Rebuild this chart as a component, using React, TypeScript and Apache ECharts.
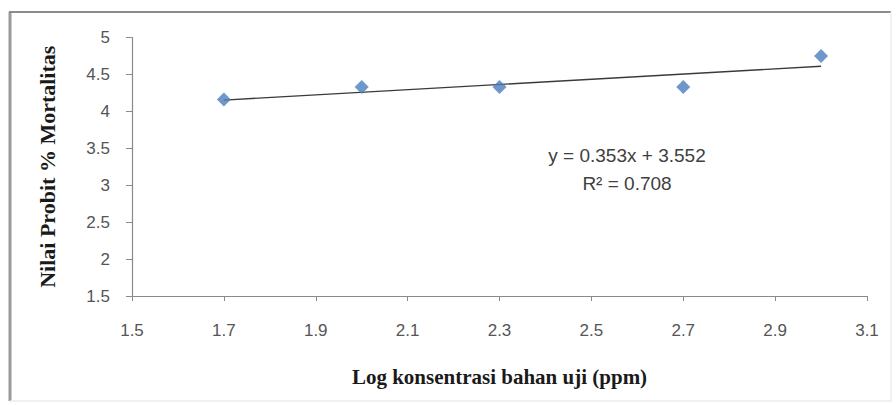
import React, { useEffect, useRef } from "react";
import * as echarts from "echarts";

const logConc: number[] = [1.7, 2.0, 2.3, 2.7, 3.0];
const probit: number[] = [4.16, 4.33, 4.33, 4.33, 4.75];
const trendSlope = 0.353;
const trendIntercept = 3.552;
const trendRange: number[] = [1.7, 3.0];
const equationLines: string[] = ["y = 0.353x + 3.552", "R² = 0.708"];
const xTitle = "Log konsentrasi bahan uji (ppm)";
const yTitle = "Nilai Probit % Mortalitas";

export default function App() {
  const ref = useRef<HTMLDivElement>(null);
  useEffect(() => {
    if (!ref.current) return;
    const chart = echarts.init(ref.current, null, { renderer: "svg" });
    const trendData = trendRange.map((x) => [x, trendSlope * x + trendIntercept]);
    const labelFont = "'Liberation Sans', Arial, sans-serif";
    chart.setOption({
      animation: false,
      backgroundColor: "#ffffff",
      grid: { left: 132, right: 29, top: 37.5, bottom: 109 },
      xAxis: {
        type: "value",
        min: 1.5,
        max: 3.1,
        interval: 0.2,
        name: xTitle,
        nameLocation: "middle",
        nameGap: 70,
        nameTextStyle: {
          fontFamily: "'Liberation Serif', 'Times New Roman', serif",
          fontWeight: "bold",
          fontSize: 21,
          color: "#1a1a1a",
        },
        axisLine: { lineStyle: { color: "#8a8a8a", width: 1.2 } },
        axisTick: { length: 5, lineStyle: { color: "#8a8a8a" } },
        splitLine: { show: false },
        axisLabel: {
          formatter: (v: number) => v.toFixed(1),
          fontFamily: labelFont,
          fontSize: 17,
          color: "#555555",
          margin: 26,
        },
      },
      yAxis: {
        type: "value",
        min: 1.5,
        max: 5,
        interval: 0.5,
        name: yTitle,
        nameLocation: "middle",
        nameGap: 74,
        nameTextStyle: {
          fontFamily: "'Liberation Serif', 'Times New Roman', serif",
          fontWeight: "bold",
          fontSize: 22,
          color: "#1a1a1a",
        },
        axisLine: { show: true, lineStyle: { color: "#8a8a8a", width: 1.2 } },
        axisTick: { show: true, length: 6, lineStyle: { color: "#8a8a8a" } },
        splitLine: { show: false },
        axisLabel: {
          fontFamily: labelFont,
          fontSize: 17,
          color: "#555555",
          margin: 22,
        },
      },
      series: [
        {
          type: "line",
          data: trendData,
          symbol: "none",
          lineStyle: { color: "#3a3a3a", width: 1.4 },
          z: 2,
        },
        {
          type: "scatter",
          data: logConc.map((x, i) => [x, probit[i]]),
          symbol: "diamond",
          symbolSize: 14,
          itemStyle: { color: "#4a7ebb" },
          z: 3,
        },
      ],
      graphic: [
        {
          type: "line",
          shape: { x1: 10, y1: 12, x2: 10, y2: 401 },
          style: { stroke: "#9a9a9a", lineWidth: 3 },
        },
        {
          type: "line",
          shape: { x1: 9, y1: 12, x2: 891, y2: 12 },
          style: { stroke: "#8c8c8c", lineWidth: 2 },
        },
        {
          type: "line",
          shape: { x1: 891, y1: 12, x2: 891, y2: 401 },
          style: { stroke: "#ececec", lineWidth: 1.5 },
        },
        {
          type: "line",
          shape: { x1: 10, y1: 401, x2: 891, y2: 401 },
          style: { stroke: "#ececec", lineWidth: 1.5 },
        },
        {
          type: "text",
          x: 627,
          y: 155,
          style: {
            text: equationLines[0],
            fontFamily: labelFont,
            fontSize: 19,
            fill: "#404040",
            textAlign: "center",
            textVerticalAlign: "middle",
          },
        },
        {
          type: "text",
          x: 627,
          y: 183,
          style: {
            text: equationLines[1],
            fontFamily: labelFont,
            fontSize: 19,
            fill: "#404040",
            textAlign: "center",
            textVerticalAlign: "middle",
          },
        },
      ],
    });
    return () => chart.dispose();
  }, []);
  return (
    <div
      ref={ref}
      style={{ position: "fixed", left: 0, top: 0, width: 896, height: 405 }}
    />
  );
}
